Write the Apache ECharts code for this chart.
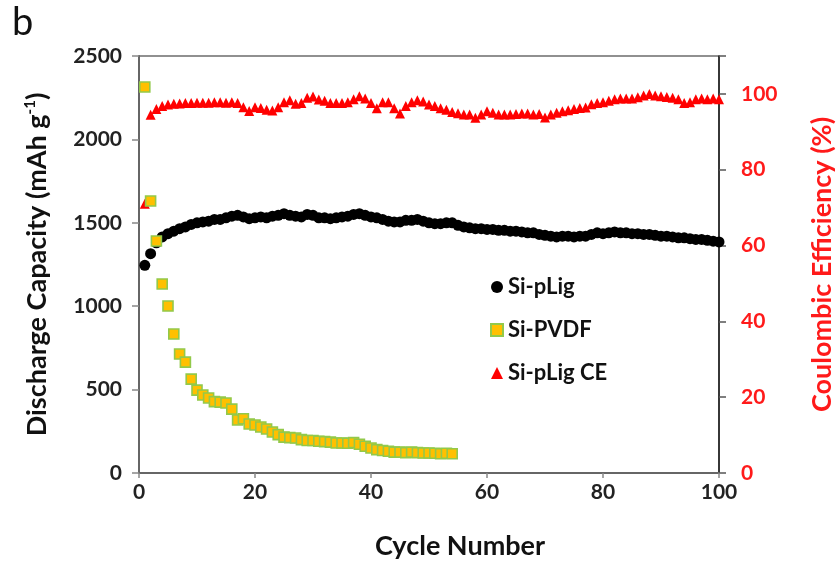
<!DOCTYPE html>
<html>
<head>
<meta charset="utf-8">
<script src="https://cdn.jsdelivr.net/npm/echarts@6/dist/echarts.min.js"></script>
<style>
  html, body { margin: 0; padding: 0; background: #fff; }
  #chart { width: 838px; height: 570px; }
</style>
</head>
<body>
<div id="chart"></div>
<script>
// Cycling data: discharge capacity (mAh/g) and Coulombic efficiency (%)
const cycles = Array.from({ length: 100 }, (_, i) => i + 1);

const siPLig = [
  1245, 1315, 1380, 1415, 1435, 1450, 1465, 1475, 1490, 1500,
  1505, 1510, 1520, 1520, 1530, 1540, 1545, 1535, 1525, 1530,
  1535, 1530, 1540, 1545, 1555, 1545, 1540, 1535, 1550, 1545,
  1530, 1530, 1525, 1530, 1535, 1540, 1550, 1555, 1545, 1535,
  1530, 1520, 1510, 1505, 1505, 1515, 1515, 1520, 1510, 1500,
  1495, 1495, 1500, 1500, 1485, 1475, 1470, 1465, 1465, 1460,
  1460, 1455, 1455, 1450, 1450, 1445, 1440, 1440, 1430, 1425,
  1420, 1415, 1420, 1420, 1415, 1420, 1420, 1430, 1440, 1435,
  1440, 1445, 1440, 1440, 1435, 1435, 1430, 1430, 1425, 1420,
  1420, 1415, 1410, 1410, 1405, 1400, 1400, 1395, 1390, 1385
];

const siPVDF = [
  2314, 1631, 1391, 1133, 1001, 833, 713, 665, 563, 497,
  468, 450, 428, 425, 420, 383, 318, 325, 294, 288,
  276, 264, 246, 230, 215, 212, 210, 200, 195, 195,
  190, 188, 185, 180, 180, 178, 182, 172, 160, 150,
  140, 135, 130, 125, 125, 122, 125, 122, 120, 120,
  118, 115, 118, 115
];

const siPLigCE = [
  71.0, 94.5, 96.0, 96.8, 97.2, 97.4, 97.5, 97.6, 97.6, 97.7,
  97.7, 97.7, 97.8, 97.8, 97.7, 97.8, 97.6, 96.5, 95.5, 96.5,
  96.3, 95.8, 95.6, 96.5, 97.8, 98.3, 97.4, 97.6, 99.0, 99.3,
  98.5, 98.2, 97.6, 97.6, 97.6, 97.8, 98.6, 99.4, 98.8, 97.6,
  96.2, 97.8, 97.8, 96.2, 94.8, 96.8, 97.8, 98.3, 98.0, 97.2,
  96.8, 96.2, 95.8, 95.2, 94.9, 94.6, 94.6, 93.7, 94.6, 95.4,
  95.0, 94.6, 94.6, 94.6, 94.7, 94.8, 94.8, 94.6, 94.7, 93.8,
  94.6, 95.0, 95.4, 95.7, 96.0, 96.3, 96.4, 97.3, 97.6, 97.8,
  98.2, 98.6, 98.8, 98.8, 98.8, 99.1, 99.6, 100.0, 99.6, 99.4,
  99.2, 99.0, 98.6, 97.6, 97.8, 98.6, 98.8, 98.6, 98.8, 98.6
];

const pairs = (ys) => ys.map((y, i) => [cycles[i], y]);

const FONT = 'Lato';
const TITLE_SIZE = 27;
const TICK_SIZE = 21;
const chart = echarts.init(document.getElementById('chart'), null, { renderer: 'canvas' });

chart.setOption({
  animation: false,
  backgroundColor: '#ffffff',
  textStyle: { fontFamily: FONT },
  graphic: [{
    type: 'text', left: 12, top: 4,
    style: { text: 'b', font: '38px ' + FONT, fill: '#111' }
  }],
  grid: {
    left: 139, right: 119, top: 56, bottom: 97,
    outerBoundsMode: 'none', containLabel: false,
    show: true, borderColor: '#222', borderWidth: 1.2, backgroundColor: 'transparent'
  },
  legend: {
    orient: 'vertical', left: 485, top: 271,
    itemGap: 21, itemWidth: 12, itemHeight: 12,
    textStyle: { fontFamily: FONT, fontSize: 22, fontWeight: 'bold', color: '#111' },
    data: ['Si-pLig', 'Si-PVDF', 'Si-pLig CE']
  },
  xAxis: {
    type: 'value', min: 0, max: 100, interval: 20,
    name: 'Cycle Number', nameLocation: 'middle', nameGap: 60,
    nameTextStyle: {
      fontFamily: FONT, fontSize: TITLE_SIZE, fontWeight: 'bold', color: '#111',
      padding: [0, 0, 0, 62]
    },
    axisLine: { lineStyle: { color: '#666', width: 2 } },
    axisTick: { inside: false, length: 5, lineStyle: { color: '#888', width: 1.5 } },
    axisLabel: { fontFamily: FONT, fontSize: TICK_SIZE, fontWeight: 'bold', color: '#222', margin: 9 },
    splitLine: { show: false }
  },
  yAxis: [{
    type: 'value', min: 0, max: 2500, interval: 500, position: 'left',
    name: '{t|Discharge Capacity (mAh g}{s|-1}{t|)}',
    nameLocation: 'middle', nameGap: 88, nameRotate: 90,
    nameTextStyle: {
      rich: {
        t: { fontFamily: FONT, fontSize: TITLE_SIZE, fontWeight: 'bold', color: '#111' },
        s: { fontFamily: FONT, fontSize: 15, fontWeight: 'bold', color: '#111', verticalAlign: 'top', padding: [0, 0, 13, 0] }
      }
    },
    axisLine: { show: true, lineStyle: { color: '#666', width: 2 } },
    axisTick: { show: true, inside: false, length: 7, lineStyle: { color: '#888', width: 1.5 } },
    axisLabel: {
      fontFamily: FONT, fontSize: TICK_SIZE, fontWeight: 'bold', color: '#222', margin: 17,
      formatter: (v) => String(v)
    },
    splitLine: { show: false }
  }, {
    type: 'value', min: 0, max: 110, interval: 20, position: 'right',
    name: 'Coulombic Efficiency (%)',
    nameLocation: 'middle', nameGap: 90, nameRotate: 90,
    nameTextStyle: { fontFamily: FONT, fontSize: TITLE_SIZE, fontWeight: 'bold', color: '#ff1a1a' },
    axisLine: { show: true, lineStyle: { color: '#222', width: 1.5 } },
    axisTick: { show: true, inside: false, length: 7, lineStyle: { color: '#555', width: 1.5 } },
    axisLabel: {
      fontFamily: FONT, fontSize: TICK_SIZE, fontWeight: 'bold', color: '#ff1a1a', margin: 22,
      formatter: (v) => (v > 100 ? '' : String(v))
    },
    splitLine: { show: false }
  }],
  series: [{
    name: 'Si-pLig', type: 'scatter', yAxisIndex: 0, z: 2,
    symbol: 'circle', symbolSize: 11,
    itemStyle: { color: '#000000', opacity: 1 },
    data: pairs(siPLig)
  }, {
    name: 'Si-PVDF', type: 'scatter', yAxisIndex: 0, z: 4,
    symbol: 'rect', symbolSize: 10,
    itemStyle: { color: '#ffc000', borderColor: '#92c94a', borderWidth: 1.6, opacity: 1 },
    data: pairs(siPVDF)
  }, {
    name: 'Si-pLig CE', type: 'scatter', yAxisIndex: 1, z: 3,
    symbol: 'triangle', symbolSize: 10,
    itemStyle: { color: '#ff0000', opacity: 1 },
    data: pairs(siPLigCE)
  }]
});
</script>
</body>
</html>
